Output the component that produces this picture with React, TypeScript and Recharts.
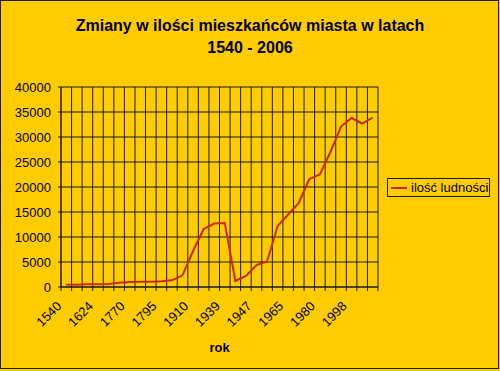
import { LineChart, Line, XAxis, YAxis, CartesianGrid, Legend } from 'recharts';

const years = [
  '1540', '1580', '1600', '1624', '1650', '1700', '1770', '1780', '1790', '1795',
  '1850', '1880', '1910', '1925', '1933', '1939', '1945', '1946', '1947', '1950',
  '1955', '1965', '1970', '1975', '1980', '1985', '1990', '1998', '2002', '2006',
];
const population = [
  470, 470, 530, 530, 600, 860, 1000, 1060, 1060, 1130,
  1330, 2330, 7200, 11600, 12700, 12800, 1200, 2200, 4400, 5100,
  12200, 14500, 16800, 21600, 22500, 27000, 32100, 33800, 32700, 33900,
];
const yTicks = [0, 5000, 10000, 15000, 20000, 25000, 30000, 35000, 40000];

const data = years.map((rok, i) => ({ rok, ludnosc: population[i] }));

const BG = '#ffcc00';
const INK = '#1a1a1a';
const RED = '#cc2a10';
const FONT = "Arial, 'Liberation Sans', sans-serif";

const margin = { top: 87, right: 122, bottom: 16, left: 0 };
const Y_W = 61;
const PLOT_W = 500 - margin.right - margin.left - Y_W;
const BAND = PLOT_W / years.length;

const YearTick = (props: any) => {
  const { x, y, payload, index } = props;
  const left = x - BAND / 2;
  return (
    <g>
      <line x1={left} x2={left} y1={y} y2={y + 4} stroke={INK} />
      {index === years.length - 1 && (
        <line x1={x + BAND / 2} x2={x + BAND / 2} y1={y} y2={y + 4} stroke={INK} />
      )}
      {index % 3 === 0 && (
        <text
          x={x - 4}
          y={y + 20}
          transform={`rotate(-45, ${x - 4}, ${y + 20})`}
          textAnchor="end"
          fontSize={13}
          fontFamily={FONT}
          fill="#000"
        >
          {payload.value}
        </text>
      )}
    </g>
  );
};

const renderLegend = () => (
  <div
    style={{
      boxSizing: 'border-box',
      width: 103,
      height: 19,
      border: `1px solid ${INK}`,
      display: 'flex',
      alignItems: 'center',
      whiteSpace: 'nowrap',
      fontFamily: FONT,
      fontSize: 13,
      color: '#000',
    }}
  >
    <span style={{ display: 'inline-block', flex: '0 0 16px', height: 2, background: RED, margin: '0 4px 0 3px' }} />
    ilość ludności
  </div>
);

export default function App() {
  return (
    <div style={{ position: 'relative', width: 500, height: 371, background: BG, fontFamily: FONT }}>
      <style>{'body{margin:0}'}</style>
      <div
        style={{
          position: 'absolute',
          boxSizing: 'border-box',
          left: 0,
          top: 0,
          width: 499,
          height: 369,
          border: `1px solid ${INK}`,
        }}
      />
      <div
        style={{
          position: 'absolute',
          top: 15,
          left: 0,
          width: 500,
          textAlign: 'center',
          fontSize: 16,
          lineHeight: '22px',
          fontWeight: 'bold',
          color: '#000',
        }}
      >
        Zmiany w ilości mieszkańców miasta w latach
        <br />
        1540 - 2006
      </div>
      <LineChart width={500} height={371} data={data} margin={margin} style={{ position: 'absolute', left: 0, top: 0 }}>
        <CartesianGrid
          stroke={INK}
          strokeOpacity={1}
          verticalCoordinatesGenerator={({ offset }: any) => {
            const left = offset?.left ?? Y_W;
            const w = offset?.width ?? PLOT_W;
            return years.map((_, i) => left + (i * w) / years.length).concat(left + w);
          }}
        />
        <XAxis
          dataKey="rok"
          scale="band"
          interval={0}
          height={68}
          tickLine={false}
          tickSize={0}
          tickMargin={0}
          axisLine={{ stroke: INK }}
          tick={<YearTick />}
          label={{ value: 'rok', position: 'insideBottom', offset: 3, fontSize: 13, fontWeight: 'bold', fill: '#000', fontFamily: FONT }}
        />
        <YAxis
          width={Y_W}
          domain={[0, 40000]}
          ticks={yTicks}
          interval={0}
          tickSize={3}
          tickMargin={7}
          tickLine={{ stroke: INK }}
          axisLine={{ stroke: INK }}
          tick={{ fontSize: 13, fill: '#000', fontFamily: FONT }}
        />
        <Legend
          verticalAlign="middle"
          align="center"
          layout="horizontal"
          content={renderLegend}
          wrapperStyle={{ left: 387, top: 178, width: 103, height: 19 }}
        />
        <Line
          type="linear"
          dataKey="ludnosc"
          name="ilość ludności"
          stroke={RED}
          strokeWidth={2}
          dot={false}
          isAnimationActive={false}
        />
      </LineChart>
    </div>
  );
}
